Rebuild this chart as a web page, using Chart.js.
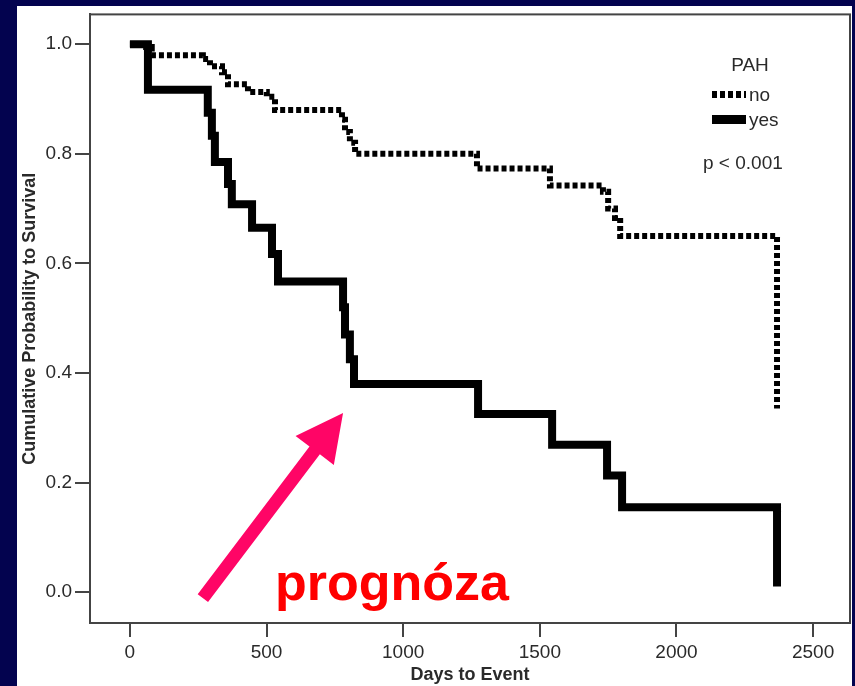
<!DOCTYPE html>
<html>
<head>
<meta charset="utf-8">
<script src="https://cdn.jsdelivr.net/npm/chart.js@4.4.1/dist/chart.umd.min.js"></script>
<style>
    html, body {
        margin: 0;
        padding: 0;
        background: #03034f;
        width: 855px;
        height: 686px;
        overflow: hidden;
    }
    .panel {
        position: absolute;
        left: 17px;
        top: 6px;
        width: 835px;
        height: 680px;
        background: #ffffff;
    }
    .chart-box {
        position: absolute;
        left: 0;
        top: 0;
        width: 855px;
        height: 686px;
    }
</style>
</head>
<body>
<div class="panel"></div>
<div class="chart-box"><canvas id="kmChart"></canvas></div>
<script>
// Kaplan-Meier steps, PAH = no
const daysNo = [0, 44, 80, 267, 293, 337, 359, 432, 501, 531, 776, 787, 805, 824, 1270, 1537, 1731, 1750, 1775, 1794, 2368];
const survNo = [1.0, 0.995, 0.98, 0.973, 0.96, 0.949, 0.927, 0.913, 0.904, 0.88, 0.862, 0.84, 0.82, 0.8, 0.773, 0.742, 0.731, 0.70, 0.683, 0.65, 0.335];

// Kaplan-Meier steps, PAH = yes
const daysYes = [0, 66, 285, 300, 311, 359, 373, 447, 520, 542, 780, 787, 805, 820, 1274, 1545, 1746, 1801, 2368];
const survYes = [1.0, 0.917, 0.875, 0.833, 0.785, 0.745, 0.708, 0.665, 0.617, 0.567, 0.52, 0.47, 0.425, 0.38, 0.325, 0.269, 0.213, 0.155, 0.01];

const groupLabels = ['no', 'yes'];
const xTicks = [0, 500, 1000, 1500, 2000, 2500];
const yTicks = [0, 0.2, 0.4, 0.6, 0.8, 1.0];
const pText = 'p < 0.001';

// arrow tail/tip and caption anchor in data units
const arrowFrom = { x: 267, y: -0.011 };
const arrowTo = { x: 780, y: 0.327 };
const captionAt = { x: 531, y: -0.0145 };

const toPoints = (xs, ys) => xs.map((x, i) => ({ x: x, y: ys[i] }));

const textColor = '#2a2a2a';
const fontFamily = "'Liberation Sans', Arial, Helvetica, sans-serif";

// frame around the plot area (top and right sides)
const framePlugin = {
    id: 'frame',
    beforeDatasetsDraw(chart) {
        const { ctx, chartArea } = chart;
        ctx.save();
        ctx.strokeStyle = '#444';
        ctx.lineWidth = 2;
        ctx.strokeRect(chartArea.left, chartArea.top, chartArea.right - chartArea.left, chartArea.bottom - chartArea.top);
        ctx.restore();
    }
};

// legend block, p value, arrow and caption
const notesPlugin = {
    id: 'notes',
    afterDatasetsDraw(chart) {
        const { ctx, chartArea, scales } = chart;
        const x = scales.x, y = scales.y;
        ctx.save();

        // legend
        const lx = chartArea.right - 138;
        ctx.fillStyle = textColor;
        ctx.font = '19px ' + fontFamily;
        ctx.textBaseline = 'middle';
        ctx.textAlign = 'center';
        ctx.fillText('PAH', lx + 38, chartArea.top + 51);
        ctx.textAlign = 'left';
        chart.data.datasets.forEach((ds, i) => {
            const ry = chartArea.top + 80 + i * 25;
            ctx.save();
            ctx.strokeStyle = ds.borderColor;
            ctx.lineWidth = ds.borderWidth + 1;
            ctx.lineCap = 'butt';
            ctx.setLineDash(ds.borderDash || []);
            ctx.beginPath();
            ctx.moveTo(lx, ry);
            ctx.lineTo(lx + 34, ry);
            ctx.stroke();
            ctx.restore();
            ctx.fillText(ds.label, lx + 37, ry + 1);
        });
        ctx.fillText(pText, lx - 9, chartArea.top + 149);

        // arrow
        const x0 = x.getPixelForValue(arrowFrom.x), y0 = y.getPixelForValue(arrowFrom.y);
        const x1 = x.getPixelForValue(arrowTo.x), y1 = y.getPixelForValue(arrowTo.y);
        const ang = Math.atan2(y1 - y0, x1 - x0);
        const len = Math.hypot(x1 - x0, y1 - y0);
        const shaft = 6.5, headLen = 47, headHalf = 24;
        ctx.translate(x0, y0);
        ctx.rotate(ang);
        ctx.fillStyle = '#ff0566';
        ctx.beginPath();
        ctx.moveTo(0, -shaft);
        ctx.lineTo(len - headLen, -shaft);
        ctx.lineTo(len - headLen, -headHalf);
        ctx.lineTo(len, 0);
        ctx.lineTo(len - headLen, headHalf);
        ctx.lineTo(len - headLen, shaft);
        ctx.lineTo(0, shaft);
        ctx.closePath();
        ctx.fill();
        ctx.setTransform(1, 0, 0, 1, 0, 0);

        // caption
        ctx.fillStyle = '#ff0000';
        ctx.font = 'bold 52px ' + fontFamily;
        ctx.textAlign = 'left';
        ctx.textBaseline = 'alphabetic';
        ctx.fillText('prognóza', x.getPixelForValue(captionAt.x), y.getPixelForValue(captionAt.y));
        ctx.restore();
    }
};

const ctx = document.getElementById('kmChart');
new Chart(ctx, {
    type: 'line',
    data: {
        datasets: [
            {
                label: groupLabels[0],
                data: toPoints(daysNo, survNo),
                stepped: true,
                borderColor: '#000',
                borderWidth: 6,
                borderDash: [5, 3],
                borderCapStyle: 'butt',
                borderJoinStyle: 'miter',
                pointRadius: 0,
                fill: false
            },
            {
                label: groupLabels[1],
                data: toPoints(daysYes, survYes),
                stepped: true,
                borderColor: '#000',
                borderWidth: 8,
                borderCapStyle: 'butt',
                borderJoinStyle: 'miter',
                pointRadius: 0,
                fill: false
            }
        ]
    },
    options: {
        responsive: true,
        maintainAspectRatio: false,
        animation: false,
        layout: {
            padding: { top: 12, right: 5, left: 0, bottom: 0 }
        },
        plugins: {
            legend: { display: false },
            tooltip: { enabled: false }
        },
        scales: {
            x: {
                type: 'linear',
                min: -146,
                max: 2635,
                afterBuildTicks: (scale) => {
                    scale.ticks = xTicks.map(v => ({ value: v }));
                },
                afterFit: (scale) => {
                    scale.height = 63;
                },
                grid: {
                    display: true,
                    drawOnChartArea: false,
                    drawTicks: true,
                    tickLength: 14,
                    color: '#444',
                    lineWidth: 2
                },
                border: { display: true, color: '#444', width: 2 },
                ticks: {
                    color: textColor,
                    padding: 4,
                    maxRotation: 0,
                    font: { family: fontFamily, size: 19 },
                    callback: (value) => String(value)
                },
                title: {
                    display: true,
                    text: 'Days to Event',
                    color: textColor,
                    padding: { top: 0, bottom: 0 },
                    font: { family: fontFamily, size: 18, weight: 'bold' }
                }
            },
            y: {
                type: 'linear',
                min: -0.0564,
                max: 1.0545,
                afterBuildTicks: (scale) => {
                    scale.ticks = yTicks.map(v => ({ value: v }));
                },
                afterFit: (scale) => {
                    scale.width = 90;
                },
                grid: {
                    display: true,
                    drawOnChartArea: false,
                    drawTicks: true,
                    tickLength: 15,
                    color: '#444',
                    lineWidth: 2
                },
                border: { display: true, color: '#444', width: 2 },
                ticks: {
                    color: textColor,
                    padding: 3,
                    font: { family: fontFamily, size: 19 },
                    callback: (value) => value.toFixed(1)
                },
                title: {
                    display: true,
                    text: 'Cumulative Probability to Survival',
                    color: textColor,
                    padding: { top: 19, bottom: 0 },
                    font: { family: fontFamily, size: 18, weight: 'bold' }
                }
            }
        }
    },
    plugins: [framePlugin, notesPlugin]
});
</script>
</body>
</html>
